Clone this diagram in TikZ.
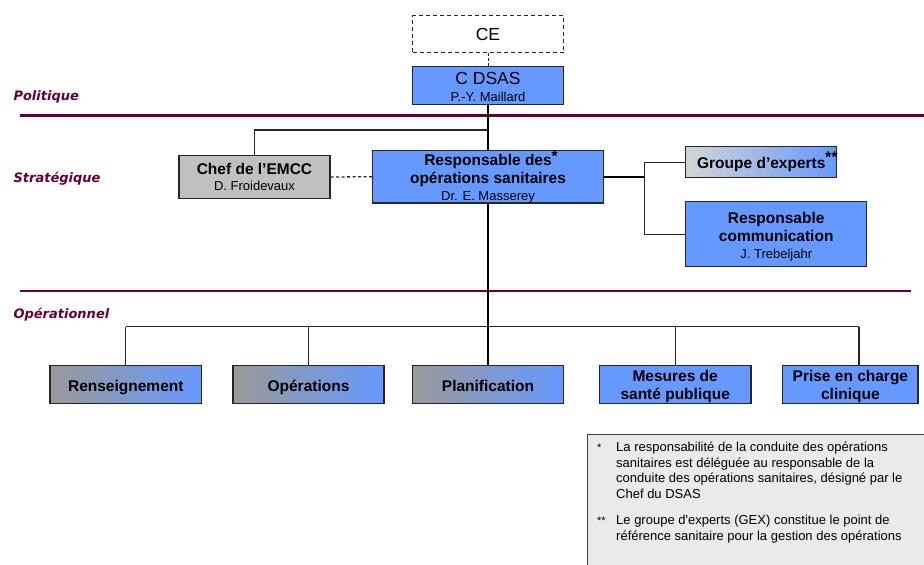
\documentclass[tikz,border=0pt]{standalone}
\usepackage{fontspec}
\setmainfont{Liberation Sans}
\newfontfamily\levelfont{DejaVu Sans}
\usepackage{tikz}

\definecolor{dsasblue}{RGB}{102,153,255}
\definecolor{boxgray}{RGB}{192,192,192}
\definecolor{fadegray}{RGB}{153,153,153}
\definecolor{palegray}{RGB}{212,212,212}
\definecolor{levelred}{RGB}{102,0,51}
\definecolor{notegray}{RGB}{234,234,234}
\newcommand\pxsize[2]{\fontsize{#1}{#2}\selectfont}
\newcommand\subline[1]{{\mdseries\pxsize{13}{15}#1}}
\newcommand\topstrut[1]{\rule{0pt}{#1pt}}

\tikzset{
  box/.style={draw=black!85, line width=1.3pt, align=center, inner sep=0pt},
  bluebox/.style={box, fill=dsasblue},
  graybox/.style={box, fill=boxgray},
  fadebox/.style={box, left color=fadegray, right color=dsasblue},
  link/.style={line width=1.3pt, black!85},
  trunk/.style={line width=2pt, black},
  levelline/.style={line width=2.6pt, levelred},
  level/.style={anchor=base west, text=levelred, font=\levelfont\bfseries\itshape\pxsize{13}{15}},
  title/.style={font=\bfseries\pxsize{15.5}{18}},
  onerow/.style={title, text height=13pt, text depth=0pt},
}

\begin{document}
\begin{tikzpicture}[x=1pt,y=-1pt]
\useasboundingbox (0,0) rectangle (924,565);

% levels
\draw[levelline] (20,115.7) -- (924,115.7);
\draw[levelline] (20,291) -- (911,291);
\node[level] (politique) at (10,100.7) {Politique};
\node[level] (strategique) at (10,182.7) {Stratégique};
\node[level] (operationnel) at (10,318.5) {Opérationnel};

% top
\node[box, dashed, dash pattern=on 4pt off 3pt, line width=1pt, minimum width=151, minimum height=37,
  font=\pxsize{17.5}{20}] (ce) at (488,34.2) {CE};
\node[bluebox, minimum width=151, minimum height=38, font=\pxsize{17.5}{18}] (cdsas) at (488,85.3)
  {\topstrut{15.5}C DSAS\\[-1.3pt]\subline{P.-Y. Maillard}};
\draw[link, dashed, dash pattern=on 3pt off 2pt, line width=1pt] (ce.south) -- (cdsas.north);

% strategic
\node[graybox, title, minimum width=151, minimum height=43] (chef) at (254.5,177)
  {Chef de l’EMCC\\[-1.6pt]\subline{D. Froidevaux}};
\node[bluebox, title, minimum width=231, minimum height=52] (resp) at (488,176.7)
  {\topstrut{14.5}Responsable des\rlap{\raisebox{4pt}{*}}\\[0.3pt]opérations sanitaires\\[-1.3pt]\subline{Dr. E. Masserey}};
\node[box, title, left color=palegray, right color=dsasblue, minimum width=151, minimum height=31] (experts) at (761.3,162.2)
  {Groupe d’experts\rlap{\raisebox{6pt}{**}}};
\node[bluebox, title, minimum width=181, minimum height=65] (comm) at (776.2,234.3)
  {\topstrut{16}Responsable\\[0.3pt]communication\\[-0.7pt]\subline{J. Trebeljahr}};

\coordinate (split) at (488,130);
\coordinate (fork) at (644.3,176.7);
\draw[trunk] (cdsas.south) -- (resp.north);
\draw[link] (split) -| (chef.north);
\draw[link, dash pattern=on 3pt off 2.5pt, line width=1.3pt] (chef.east) -- (resp.west);
\draw[trunk] (resp.east) -- (fork);
\draw[link] (experts.west) -| (fork) |- (comm.west);

% operational
\node[fadebox, onerow, minimum width=151.7, minimum height=37.6] (rens) at (125.8,384.5) {Renseignement};
\node[fadebox, onerow, minimum width=151, minimum height=37.6] (oper) at (308.5,384.5) {Opérations};
\node[fadebox, onerow, minimum width=151.4, minimum height=37.6] (plan) at (488,384.5) {Planification};
\node[bluebox, title, minimum width=151.7, minimum height=37.6] (mes) at (675.2,384.5)
  {\topstrut{15}Mesures de\\santé publique};
\node[bluebox, title, minimum width=135.3, minimum height=37.6] (prise) at (850.4,384.5)
  {\topstrut{15}Prise en charge\\clinique};

\coordinate (busl) at (125.8,326.7);
\coordinate (busr) at (859,326.7);
\draw[trunk] (resp.south) -- (plan.north);
\draw[link] (busl) -- (busr);
\draw[link] (busl) -- (rens.north);
\foreach \n in {oper,mes}
  \draw[link] (\n.north |- busl) -- (\n.north);
\draw[link] (busr) -- (busr |- prise.north);

% note
\node[draw=black!75, fill=notegray, line width=1pt, anchor=north west, minimum width=350, minimum height=140] (notebox) at (587,434) {};
\node[anchor=north west, inner sep=0pt, font=\pxsize{13}{15.8}] (notetext) at (597,440)
  {\begin{tabular}{@{}p{19pt}@{}l@{}}
   {\pxsize{11}{11}*} & La responsabilité de la conduite des opérations\\
   & sanitaires est déléguée au responsable de la\\
   & conduite des opérations sanitaires, désigné par le\\
   & Chef du DSAS\\[10pt]
   {\pxsize{11}{11}**} & Le groupe d\textquotesingle experts (GEX) constitue le point de\\
   & référence sanitaire pour la gestion des opérations
   \end{tabular}};
\end{tikzpicture}
\end{document}
